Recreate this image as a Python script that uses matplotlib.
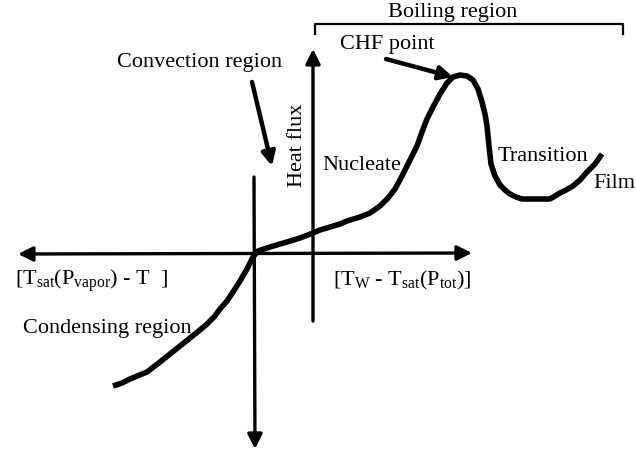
import numpy as np
import matplotlib.pyplot as plt

plt.rcParams['font.family'] = ['Liberation Serif', 'DejaVu Serif']
plt.rcParams['mathtext.fontset'] = 'custom'
plt.rcParams['mathtext.rm'] = 'Liberation Serif'
plt.rcParams['mathtext.it'] = 'Liberation Serif'

# boiling curve (x, y in sketch units, y grows downward)
curve_x = [113, 122, 130, 147, 160, 170, 180, 190, 200, 207, 214, 220,
           227, 233, 240, 247, 253, 258, 264, 270, 280, 287, 300, 313,
           320, 330, 340, 347, 360, 370, 380, 388, 395, 401, 407, 412,
           417, 422, 427, 433, 440, 447, 453, 460, 467, 473, 478, 482,
           485, 487, 489, 491, 495, 500, 505, 510, 516, 522, 536, 550,
           555, 560, 566, 573, 580, 587, 595, 602]
curve_y = [387, 384, 380, 373, 363, 355, 347, 339, 331, 325, 318, 310,
           302, 293, 282, 270, 258, 252, 250, 248, 245, 243, 239, 234,
           231, 228, 225, 222, 218, 214, 207, 199, 190, 179, 167, 157,
           147, 133, 120, 108, 95, 84, 78, 76, 77, 81, 90, 103,
           115, 127, 147, 165, 177, 186, 191, 195, 198, 200, 200, 200,
           197, 194, 191, 187, 181, 173, 165, 155]

# labels
labels = {
    'Boiling region': (453, 13),
    'CHF point': (387, 45),
    'Convection region': (200, 62),
    'Nucleate': (362, 166),
    'Transition': (543, 157),
    'Film': (614, 184),
    'Condensing region': (107, 329),
}
left_axis_label = r'[T$_{\rm sat}$(P$_{\rm vapor}$) - T  ]'
right_axis_label = r'[T$_{\rm W}$ - T$_{\rm sat}$(P$_{\rm tot}$)]'

fig = plt.figure(figsize=(6.36, 4.52), dpi=100)
ax = fig.add_axes([0, 0, 1, 1])
ax.set_xlim(0, 636)
ax.set_ylim(452, 0)
ax.axis('off')

fs = 16
arrow = dict(arrowstyle='-|>', color='black', lw=2.4, mutation_scale=22,
             shrinkA=0, shrinkB=0)

# horizontal axis (double headed)
ax.annotate('', xy=(18, 255), xytext=(472, 254),
            arrowprops=dict(arrowstyle='<|-|>', color='black', lw=2.4,
                            mutation_scale=22, shrinkA=0, shrinkB=0))
# vertical axis through origin, pointing down
ax.annotate('', xy=(255, 450), xytext=(254, 178), arrowprops=arrow)
# heat flux axis, pointing up
ax.annotate('', xy=(313, 50), xytext=(313, 322), arrowprops=arrow)

# boiling curve
ax.plot(curve_x, curve_y, color='black', lw=4.0, solid_capstyle='butt',
        solid_joinstyle='round')

# bracket over boiling region
ax.plot([315, 315, 623, 623], [35, 25, 25, 35], color='black', lw=1.6)

# pointer arrows
ax.annotate('', xy=(453, 78), xytext=(386, 60),
            arrowprops=dict(arrowstyle='-|>', color='black', lw=3.2,
                            mutation_scale=20, shrinkA=0, shrinkB=0))
ax.annotate('', xy=(272, 167), xytext=(252, 83),
            arrowprops=dict(arrowstyle='-|>', color='black', lw=3.2,
                            mutation_scale=20, shrinkA=0, shrinkB=0))

for txt, (x, y) in labels.items():
    ax.text(x, y, txt, fontsize=fs, ha='center', va='center')

ax.text(297, 145, 'Heat flux', fontsize=fs, rotation=90,
        ha='center', va='center')
ax.text(15, 281, left_axis_label, fontsize=fs, ha='left', va='center')
ax.text(333, 280, right_axis_label, fontsize=fs, ha='left', va='center')

plt.savefig('out.png', dpi=100)
